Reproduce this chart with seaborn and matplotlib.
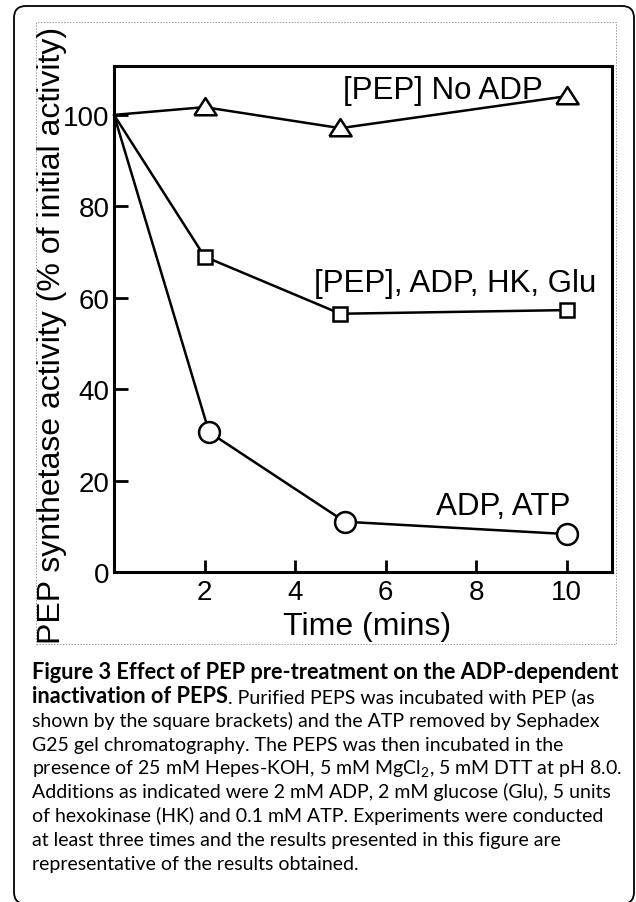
import matplotlib
matplotlib.use('Agg')
import matplotlib.pyplot as plt
from matplotlib.patches import FancyBboxPatch, Rectangle
import seaborn as sns

# values (time in mins, % of initial activity)
time_no_adp = [0, 2, 5, 10]
act_no_adp = [100, 101.7, 97.1, 104.1]
time_hk = [0, 2, 5, 10]
act_hk = [100, 69.0, 56.5, 57.3]
time_atp = [0, 2.1, 5.1, 10]
act_atp = [100, 30.6, 11.0, 8.3]
series_labels = ['[PEP] No ADP', '[PEP], ADP, HK, Glu', 'ADP, ATP']
label_pos = [(5.05, 103.7), (4.42, 61.4), (7.12, 12.7)]
xticks = [2, 4, 6, 8, 10]
yticks = [0, 20, 40, 60, 80, 100]

caption = [
    [('Figure 3 Effect of PEP pre-treatment on the ADP-dependent', 'bold')],
    [('inactivation of PEPS', 'bold'), ('. Purified PEPS was incubated with PEP (as', 'normal')],
    [('shown by the square brackets) and the ATP removed by Sephadex', 'normal')],
    [('G25 gel chromatography. The PEPS was then incubated in the', 'normal')],
    [('presence of 25 mM Hepes-KOH, 5 mM MgCl$_\\mathregular{2}$, 5 mM DTT at pH 8.0.', 'normal')],
    [('Additions as indicated were 2 mM ADP, 2 mM glucose (Glu), 5 units', 'normal')],
    [('of hexokinase (HK) and 0.1 mM ATP. Experiments were conducted', 'normal')],
    [('at least three times and the results presented in this figure are', 'normal')],
    [('representative of the results obtained.', 'normal')],
]

sns.set_theme(style='white')
plt.rcParams['font.family'] = ['Liberation Sans', 'DejaVu Sans']
plt.rcParams['mathtext.fontset'] = 'custom'
for k in ['text.color', 'axes.labelcolor', 'xtick.color', 'ytick.color', 'axes.edgecolor']:
    plt.rcParams[k] = 'black'

W, H = 636, 903
fig = plt.figure(figsize=(W / 100, H / 100), dpi=100)

# background layer in pixel coordinates (y up): frame, dotted box, caption
bg = fig.add_axes([0, 0, 1, 1])
bg.set_xlim(0, W)
bg.set_ylim(0, H)
bg.axis('off')
bg.add_patch(FancyBboxPatch((14, H - 905), 620, 898, boxstyle='round,pad=0,rounding_size=12',
                            fc='none', ec='black', lw=1.3, clip_on=False))
bg.add_patch(Rectangle((36, H - 645), 580, 622, fill=False, ec='#9a9a9a', lw=0.7,
                       ls=(0, (1.5, 1.5))))

# plot area
ax = fig.add_axes([114 / W, 1 - 573 / H, (612 - 114) / W, (573 - 67) / H])
ax.patch.set_alpha(0)

tri = [(-1, -0.7), (1, -0.7), (0, 0.85), (-1, -0.7)]
styles = [(tri, 16), ('s', 10), ('o', 15)]
data = [(time_no_adp, act_no_adp), (time_hk, act_hk), (time_atp, act_atp)]
for (t, a), (mk, ms) in zip(data, styles):
    sns.lineplot(x=t, y=a, ax=ax, color='black', lw=1.8, marker=mk, markersize=ms,
                 markerfacecolor='white', markeredgecolor='black', markeredgewidth=1.8,
                 markevery=slice(1, None), clip_on=False)

for lab, (x, y) in zip(series_labels, label_pos):
    ax.text(x, y, lab, fontsize=22.5, ha='left', va='baseline')

ax.set_xlim(0, 11)
ax.set_ylim(0, 110.7)
ax.set_xticks(xticks)
ax.set_yticks(yticks)
ax.tick_params(axis='x', bottom=True, direction='in', length=9, width=2, labelsize=20, pad=5)
ax.tick_params(axis='y', left=True, direction='in', length=10, width=2, labelsize=20, pad=3)
for s in ax.spines.values():
    s.set_linewidth(2.2)
    s.set_color('black')

fig.text(52.5 / W, 1 - 335 / H, 'PEP synthetase activity (% of initial activity)',
         rotation=90, ha='center', va='center', fontsize=23)
fig.text(367 / W, 1 - 627 / H, 'Time (mins)', ha='center', va='center', fontsize=23)

# caption, bold run followed by regular run on the same baseline
renderer = fig.canvas.get_renderer()
cap_font = ['Lato', 'DejaVu Sans']
cap_size = {'bold': 15.7, 'normal': 14.0}
y0 = 679
for i, line in enumerate(caption):
    x = 32
    for txt, wt in line:
        t = bg.text(x, H - (y0 + i * 23.9), txt, fontsize=cap_size[wt], fontweight=wt,
                    family=cap_font, ha='left', va='baseline')
        bb = t.get_window_extent(renderer)
        x = bg.transData.inverted().transform((bb.x1, 0))[0]

fig.savefig('out.png', dpi=100)
